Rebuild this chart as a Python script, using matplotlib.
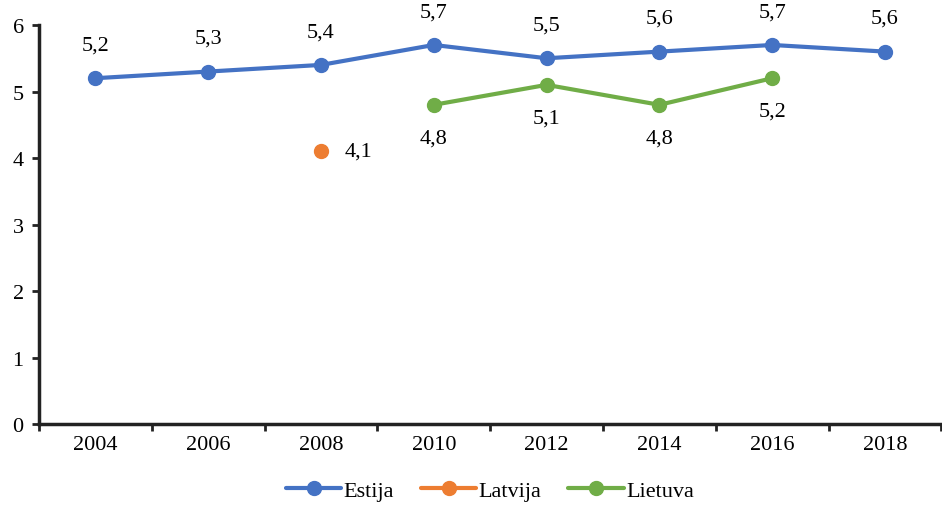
import matplotlib
matplotlib.use("Agg")
import matplotlib.pyplot as plt
import numpy as np

plt.rcParams['font.family'] = ['Liberation Serif', 'DejaVu Serif']

years = ['2004', '2006', '2008', '2010', '2012', '2014', '2016', '2018']
estija = [5.2, 5.3, 5.4, 5.7, 5.5, 5.6, 5.7, 5.6]
latvija = [None, None, 4.1, None, None, None, None, None]
lietuva = [None, None, None, 4.8, 5.1, 4.8, 5.2, None]

blue = '#4472C4'
orange = '#ED7D31'
green = '#70AD47'


def to_arr(vals):
    return np.array([np.nan if v is None else v for v in vals], dtype=float)


def fmt(v):
    return ('%.1f' % v).replace('.', ',')


fig = plt.figure(figsize=(9.42, 5.06), dpi=100)
ax = fig.add_axes([0.0414, 0.160, 0.958, 0.7886])

x = np.arange(len(years))
series = [('Estija', estija, blue, (0, 24), 'center'),
          ('Latvija', latvija, orange, (17, 0), 'left'),
          ('Lietuva', lietuva, green, (0, -24), 'center')]

for name, vals, col, off, ha in series:
    y = to_arr(vals)
    ax.plot(x, y, color=col, lw=3, marker='o', ms=10, label=name,
            solid_capstyle='round')
    for xi, yi in zip(x, y):
        if not np.isnan(yi):
            ax.annotate(fmt(yi), (xi, yi), xytext=off, textcoords='offset points',
                        ha=ha, va='center', fontsize=16)

ax.set_xlim(-0.5, len(years) - 0.5)
ax.set_ylim(0, 6)
ax.set_yticks(range(0, 7))
ax.set_xticks(x)
ax.set_xticklabels(years)
ax.set_xticks(np.arange(-0.5, len(years) - 0.4, 1), minor=True)
ax.tick_params(axis='x', which='major', length=0, labelsize=16, pad=8)
ax.tick_params(axis='x', which='minor', length=5, width=2, direction='out', colors='#222222')
ax.tick_params(axis='y', length=5, width=2, labelsize=16, pad=6, colors='#222222')
for lbl in ax.get_xticklabels() + ax.get_yticklabels():
    lbl.set_color('black')

for s in ['top', 'right']:
    ax.spines[s].set_visible(False)
for s in ['left', 'bottom']:
    ax.spines[s].set_linewidth(2.5)
    ax.spines[s].set_color('#222222')

fig.legend(loc='center', bbox_to_anchor=(0.52, 0.028), ncol=3, frameon=False,
           fontsize=16, handlelength=2.5, columnspacing=1.2, handletextpad=0.1,
           borderpad=0.1)

fig.savefig('out.png', dpi=100)
